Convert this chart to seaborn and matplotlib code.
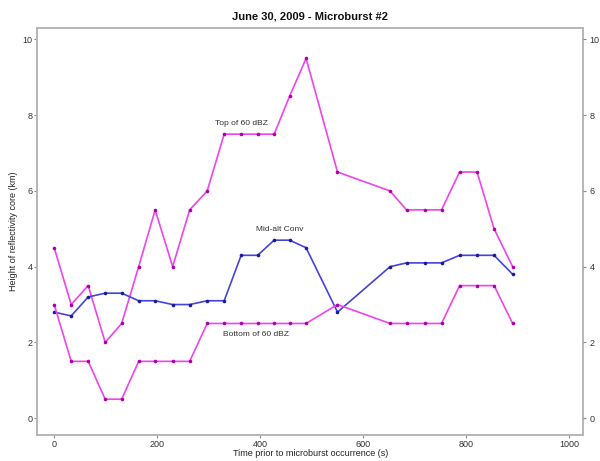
import numpy as np
import pandas as pd
import matplotlib
matplotlib.use("Agg")
import matplotlib.pyplot as plt
import seaborn as sns

# Time before microburst (s) for each radar volume scan
time_s = [0, 33, 66, 99, 131, 164, 196, 230, 263, 297, 330, 363, 395,
          427, 457, 489, 550, 652, 684, 720, 752, 787, 821, 854, 890]

# Heights of the reflectivity core (km)
top_60dbz = [4.5, 3.0, 3.5, 2.0, 2.5, 4.0, 5.5, 4.0, 5.5, 6.0, 7.5, 7.5, 7.5,
             7.5, 8.5, 9.5, 6.5, 6.0, 5.5, 5.5, 5.5, 6.5, 6.5, 5.0, 4.0]
mid_alt_conv = [2.8, 2.7, 3.2, 3.3, 3.3, 3.1, 3.1, 3.0, 3.0, 3.1, 3.1, 4.3, 4.3,
                4.7, 4.7, 4.5, 2.8, 4.0, 4.1, 4.1, 4.1, 4.3, 4.3, 4.3, 3.8]
bottom_60dbz = [3.0, 1.5, 1.5, 0.5, 0.5, 1.5, 1.5, 1.5, 1.5, 2.5, 2.5, 2.5, 2.5,
                2.5, 2.5, 2.5, 3.0, 2.5, 2.5, 2.5, 2.5, 3.5, 3.5, 3.5, 2.5]

series_names = ["Top of 60 dBZ", "Mid-alt Conv", "Bottom of 60 dBZ"]
y_ticks = [0, 2, 4, 6, 8, 10]
x_ticks = [0, 200, 400, 600, 800, 1000]

df = pd.DataFrame({
    "time": time_s * 3,
    "height": top_60dbz + mid_alt_conv + bottom_60dbz,
    "series": [series_names[0]] * len(time_s)
              + [series_names[1]] * len(time_s)
              + [series_names[2]] * len(time_s),
})

sns.set_style("white")
plt.rcParams["font.family"] = ["Liberation Sans", "DejaVu Sans"]

fig = plt.figure(figsize=(6.0, 4.61), dpi=100)
ax = fig.add_axes([0.062, 0.056, 0.910, 0.883])

magenta = "#ee44ee"
blue = "#4444dd"
palette = {series_names[0]: magenta, series_names[1]: blue,
           series_names[2]: magenta}

sns.lineplot(data=df, x="time", y="height", hue="series", palette=palette,
             marker="o", markersize=2.6, markeredgewidth=0,
             linewidth=1.2, legend=False, ax=ax, sort=False,
             estimator=None)
# darker marker centres
for line in ax.get_lines():
    c = line.get_color()
    line.set_markerfacecolor("#aa00aa" if c == magenta else "#1a1a99")

ax.set_xlim(-33, 1027)
ax.set_ylim(-0.45, 10.3)
ax.set_xticks(x_ticks)
ax.set_yticks(y_ticks)

grey = "#b5b5b5"
for s in ax.spines.values():
    s.set_color(grey)
    s.set_linewidth(1.4)
ax.tick_params(axis="both", which="both", direction="out", length=2.5,
               width=0.8, color="#888888", labelsize=6.5,
               labelcolor="#333333", pad=1, left=True, bottom=True)

ax2 = ax.twinx()
ax2.set_ylim(ax.get_ylim())
ax2.set_yticks(y_ticks)
for s in ax2.spines.values():
    s.set_visible(False)
ax2.tick_params(axis="y", direction="out", length=2.5, width=0.8,
                color="#888888", labelsize=6.5, labelcolor="#333333",
                pad=2, right=True)

ax.set_title("June 30, 2009 - Microburst #2", fontsize=8, fontweight="bold",
             color="#111111", pad=6)
ax.set_xlabel("Time prior to microburst occurrence (s)", fontsize=6.5,
              color="#222222", labelpad=0)
ax.set_ylabel("Height of reflectivity core (km)", fontsize=6.5,
              color="#222222", labelpad=3)

ax.text(363, 7.79, "Top of 60 dBZ", fontsize=6, ha="center", va="center",
        color="#333333")
ax.text(438, 4.97, "Mid-alt Conv", fontsize=6, ha="center", va="center",
        color="#333333")
ax.text(392, 2.21, "Bottom of 60 dBZ", fontsize=6, ha="center",
        va="center", color="#333333")

fig.savefig("out.png", dpi=100)
